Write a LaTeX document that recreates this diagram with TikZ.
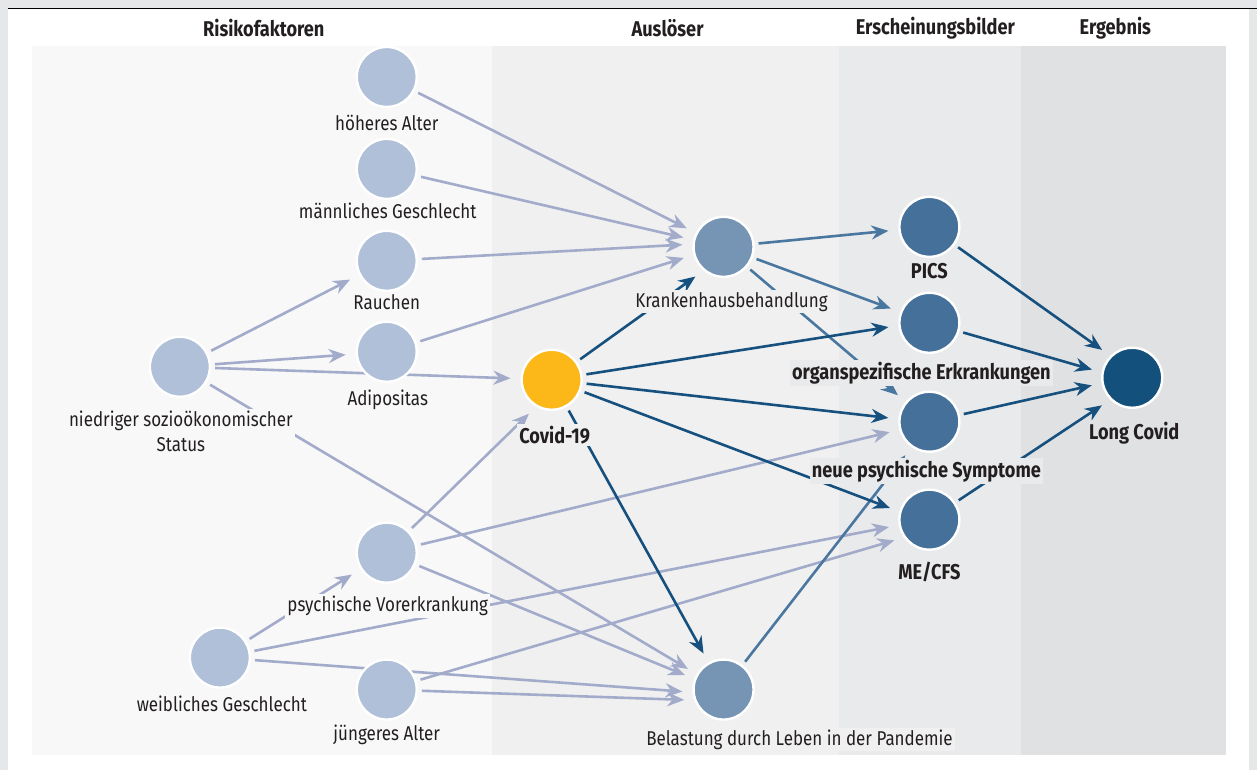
\documentclass[tikz,border=0pt]{standalone}
\usepackage{fontspec}
\setmainfont{Fira Sans}[FakeStretch=0.85]
\usepackage{tikz}
\usetikzlibrary{positioning}
\usetikzlibrary{arrows.meta}
\definecolor{outergray}{HTML}{E6E7E9}
\definecolor{colR}{HTML}{F8F8F8}
\definecolor{colA}{HTML}{F0F0F0}
\definecolor{colE}{HTML}{E9EAEB}
\definecolor{colG}{HTML}{E0E1E3}
\definecolor{riskfill}{HTML}{B0C0D8}
\definecolor{careful}{HTML}{7694B4}
\definecolor{symfill}{HTML}{44709A}
\definecolor{longfill}{HTML}{14507C}
\definecolor{covidfill}{HTML}{FBB818}
\definecolor{ltline}{HTML}{A3ABCB}
\definecolor{mdline}{HTML}{4A77A0}
\definecolor{dkline}{HTML}{16507E}
\definecolor{txt}{HTML}{231F20}
\pgfdeclarelayer{bg}
\pgfdeclarelayer{edges}
\pgfsetlayers{bg,edges,main}

\begin{document}
\begin{tikzpicture}[x=0.5pt,y=-0.5pt]
	\begin{pgfonlayer}{bg}
	    \fill[outergray] (0,0) rectangle (1258,770);
	    \fill[white] (8,9) rectangle (1250,770);
	    \draw[black,line width=0.8pt] (8,8.5) -- (1258,8.5);
	    \fill[colR] (32,46) rectangle (492,755);
	    \fill[colA] (492,46) rectangle (840,755);
	    \fill[colE] (840,46) rectangle (1022,755);
	    \fill[colG] (1022,46) rectangle (1227,755);
	\end{pgfonlayer}

	% column titles
	\begin{scope}[every node/.style={font=\bfseries\fontsize{10.7}{12}\selectfont, text=txt}]
	    \node (tRisk) at (264,28) {Risikofaktoren};
	    \node (tAusl) at (668,28) {Auslöser};
	    \node (tErsch) at (936,28) {Erscheinungsbilder};
	    \node (tErg) at (1116,28) {Ergebnis};
	\end{scope}

	\begin{scope}[every node/.style={circle,draw=white,line width=1.2pt,inner sep=0pt,minimum size=30pt,fill=riskfill}]
	    \node (hA) at (387,77) {};
	    \node (mG) at (387,169) {};
	    \node (Ra) at (387,261) {};
	    \node (Ad) at (387,352) {};
	    \node (St) at (180,367) {};
	    \node (pV) at (387,553) {};
	    \node (wG) at (220,658) {};
	    \node (jA) at (387,690) {};
	    \node (KH) [fill=careful] at (724,247) {};
	    \node (Cov) [fill=covidfill] at (552,380) {};
	    \node (Bel) [fill=careful] at (724,690) {};
	    \node (PICS) [fill=symfill] at (930,227) {};
	    \node (oE) [fill=symfill] at (930,323) {};
	    \node (nS) [fill=symfill] at (930,422) {};
	    \node (ME) [fill=symfill] at (930,520) {};
	    \node (LC) [fill=longfill] at (1133,378) {};
	\end{scope}

	% labels
	\begin{scope}[every node/.style={font=\fontsize{10}{12.5}\selectfont,text=txt,inner sep=1pt,fill=colR}]
	    \node (hAl) at (387,123) {höheres Alter};
	    \node (mGl) at (388,211) {männliches Geschlecht};
	    \node (Ral) at (387,302) {Rauchen};
	    \node (Adl) at (388,400) {Adipositas};
	    \node (Stl) [align=center] at (181,432) {niedriger sozioökonomischer\\Status};
	    \node (pVl) at (388,606) {psychische Vorerkrankung};
	    \node (wGl) at (222,704) {weibliches Geschlecht};
	    \node (jAl) at (387,735) {jüngeres Alter};
	    \node (KHl) [fill=colA] at (732,302) {Krankenhausbehandlung};
	    \node (Bell) [fill=colA] at (800,740) {Belastung durch Leben in der Pandemie};
	\end{scope}
	\begin{scope}[every node/.style={font=\bfseries\fontsize{10.7}{12}\selectfont,text=txt,inner sep=1pt,fill=colE}]
	    \node (Covl) [fill=colA] at (555,435) {Covid-19};
	    \node (PICSl) at (930,271) {PICS};
	    \node (oEl) at (922,373) {organspezifische Erkrankungen};
	    \node (nSl) at (927,471) {neue psychische Symptome};
	    \node (MEl) at (930,572) {ME/CFS};
	    \node (LCl) [fill=colG] at (1135,433) {Long Covid};
	\end{scope}

	\begin{pgfonlayer}{edges}
	\begin{scope}[>={Stealth[length=8.5pt,width=7pt]},
	              every edge/.style={draw,line width=1.3pt,shorten >=5pt,shorten <=2pt},
	              lt/.style={draw=ltline},md/.style={draw=mdline},dk/.style={draw=dkline}]
    	\path [->] (hA) edge[lt] (KH);
    	\path [->] (mG) edge[lt] (KH);
    	\path [->] (Ra) edge[lt] (KH.175);
    	\path [->] (Ad) edge[lt] (KH.195);
    	\path [->] (St) edge[lt] (Ra);
    	\path [->] (St) edge[lt] (Ad);
    	\path [->] (St) edge[lt] (Cov);
    	\path [->] (St) edge[lt] (Bel.150);
    	\path [->] (pV) edge[lt] (Cov.240);
    	\path [->] (pV) edge[lt] (nS.195);
    	\path [->] (pV) edge[lt] (Bel.160);
    	\path [->] (wG) edge[lt] (pV);
    	\path [->] (wG) edge[lt] (ME.190);
    	\path [->] (wG) edge[lt] (Bel.185);
    	\path [->] (jA) edge[lt] (ME.215);
    	\path [->] (jA) edge[lt] (Bel.200);
    	\path [->] (KH) edge[md] (PICS);
    	\path [->] (KH) edge[md] (oE);
    	\path [->] (KH) edge[md] (nS.140);
    	\path [->] (Bel) edge[md] (nS.235);
    	\path [->] (Cov) edge[dk] (KH.230);
    	\path [->] (Cov) edge[dk] (oE.185);
    	\path [->] (Cov) edge[dk] (nS.175);
    	\path [->] (Cov) edge[dk] (ME.165);
    	\path [->] (Cov) edge[dk] (Bel);
    	\path [->] (PICS) edge[dk] (LC.135);
    	\path [->] (oE) edge[dk] (LC.170);
    	\path [->] (nS) edge[dk] (LC.190);
    	\path [->] (ME) edge[dk] (LC.225);
	\end{scope}
	\end{pgfonlayer}
\end{tikzpicture}
\end{document}
